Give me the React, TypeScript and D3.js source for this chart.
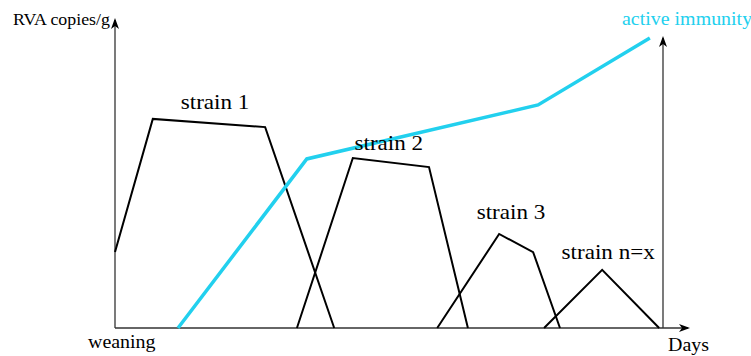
import React from 'react';
import * as d3 from 'd3';

// relative days (0-100) vs relative RVA load (0-100)
const strain1 = [[0, 26], [6.9, 71.6], [27.4, 68.8], [40.0, 0]];
const strain2 = [[33.2, 0], [43.4, 58.2], [57.3, 55.1], [64.4, 0]];
const strain3 = [[58.8, 0], [70.1, 32.2], [76.3, 26.0], [81.2, 0]];
const strainN = [[78.3, 0], [88.9, 19.9], [99.3, 0]];
const immunity = [[11.5, 0], [35.0, 57.9], [77.2, 76.4], [97.6, 99.3]];

const strainLabels = [
    { name: 'strain 1', at: [12, 75] },
    { name: 'strain 2', at: [43.7, 61] },
    { name: 'strain 3', at: [66, 37.3] },
    { name: 'strain n=x', at: [81.5, 23.6] },
];

const W = 751;
const H = 356;
const left = 115, right = 663, bottom = 328, top = 36;

const Label = ({ x, y, size, fill = '#000', children }) => (
    <text
        transform={`translate(${x},${y}) scale(1.05,1)`}
        fontFamily='"Liberation Serif", "Times New Roman", serif'
        fontSize={size}
        fill={fill}
    >{children}</text>
);

const App = () => {
    const x = d3.scaleLinear().domain([0, 100]).range([left, right]);
    const y = d3.scaleLinear().domain([0, 100]).range([bottom, top]);
    const line = d3.line<number[]>().x(d => x(d[0])).y(d => y(d[1]));

    const axisColor = '#333';
    const cyan = '#22d0ee';

    // swept arrowhead pointing up, tip at (0,0)
    const arrowUp = 'M0,0 L4,11 L0,8 L-4,11 Z';

    return (
        <div style={{ position: 'absolute', left: 0, top: 0 }}>
            <svg width={W} height={H} style={{ display: 'block', background: '#fff' }}>
                {/* axes */}
                <line x1={left} y1={bottom} x2={left} y2={20} stroke={axisColor} strokeWidth={1.3} />
                <path d={arrowUp} transform={`translate(${left},18)`} fill="#000" />
                <line x1={right} y1={bottom} x2={right} y2={38} stroke={axisColor} strokeWidth={1.3} />
                <path d={arrowUp} transform={`translate(${right},36)`} fill="#000" />
                <line x1={left} y1={bottom} x2={688} y2={bottom} stroke={axisColor} strokeWidth={1.3} />
                <path d={arrowUp} transform={`translate(690,${bottom}) rotate(90)`} fill="#000" />

                {[strain1, strain2, strain3, strainN].map((s, i) => (
                    <path key={i} d={line(s) || ''} fill="none" stroke="#000" strokeWidth={2} strokeLinejoin="miter" />
                ))}
                <path d={line(immunity) || ''} fill="none" stroke={cyan} strokeWidth={3.5} />

                {strainLabels.map(l => (
                    <Label key={l.name} x={x(l.at[0])} y={y(l.at[1])} size={22}>{l.name}</Label>
                ))}

                <Label x={13} y={25} size={17}>RVA copies/g</Label>
                <Label x={622} y={25} size={19} fill={cyan}>active immunity</Label>
                <Label x={88} y={348} size={19}>weaning</Label>
                <Label x={668} y={351} size={19}>Days</Label>
            </svg>
        </div>
    );
};

export default App;
